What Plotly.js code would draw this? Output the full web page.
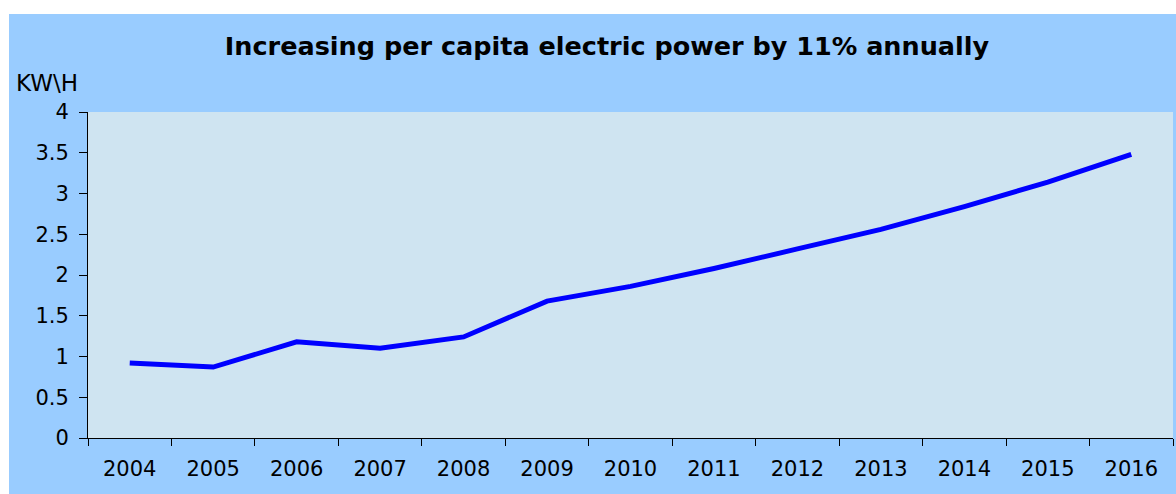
<!DOCTYPE html>
<html>
<head>
<meta charset="utf-8">
<script src="https://cdn.plot.ly/plotly-3.0.1.min.js"></script>
<style>
html,body{margin:0;padding:0;background:#ffffff;}
#wrap{position:absolute;left:9px;top:14px;width:1167px;height:480px;}
</style>
</head>
<body>
<div id="wrap"></div>
<script>
const years = ['2004','2005','2006','2007','2008','2009','2010','2011','2012','2013','2014','2015','2016'];
const kwh = [0.92, 0.87, 1.18, 1.10, 1.24, 1.68, 1.86, 2.08, 2.32, 2.56, 2.84, 3.14, 3.48];
const yTicks = [0, 0.5, 1, 1.5, 2, 2.5, 3, 3.5, 4];

const font = 'DejaVu Sans, Liberation Sans, Arial, sans-serif';
Plotly.newPlot('wrap', [{
  x: years, y: kwh, type: 'scatter', mode: 'lines',
  line: {color: '#0000ff', width: 5}
}], {
  width: 1167, height: 480,
  margin: {l: 79, r: 3, t: 98, b: 56},
  paper_bgcolor: '#99ccff',
  plot_bgcolor: '#cfe4f1',
  showlegend: false,
  title: {text: '<b>Increasing per capita electric power by 11% annually</b>',
    font: {family: font, size: 25.5, color: '#000'},
    x: 598/1167, xref: 'container', xanchor: 'center', y: 1 - 32/480, yref: 'container', yanchor: 'middle'},
  xaxis: {type: 'category', range: [-0.5, 12.5], tickson: 'boundaries',
    ticks: 'outside', ticklen: 7, tickcolor: '#000', tickwidth: 1,
    ticklabelstandoff: 12,
    showline: true, linecolor: '#000', linewidth: 1, showgrid: false,
    tickfont: {family: font, size: 21, color: '#000'}, fixedrange: true},
  yaxis: {range: [0, 4], tickvals: yTicks, ticktext: yTicks.map(String),
    ticks: 'outside', ticklen: 8, tickcolor: '#000', tickwidth: 1,
    ticklabelstandoff: 6,
    showline: true, linecolor: '#000', linewidth: 1, showgrid: false, zeroline: false,
    tickfont: {family: font, size: 21, color: '#000'}, fixedrange: true},
  annotations: [{text: 'KW\\H', xref: 'paper', yref: 'paper', x: -79/1085 + 5/1085, y: 1 + 29/326,
    xanchor: 'left', yanchor: 'middle', showarrow: false,
    font: {family: font, size: 23, color: '#000'}}]
}, {displayModeBar: false, staticPlot: true});
</script>
</body>
</html>
